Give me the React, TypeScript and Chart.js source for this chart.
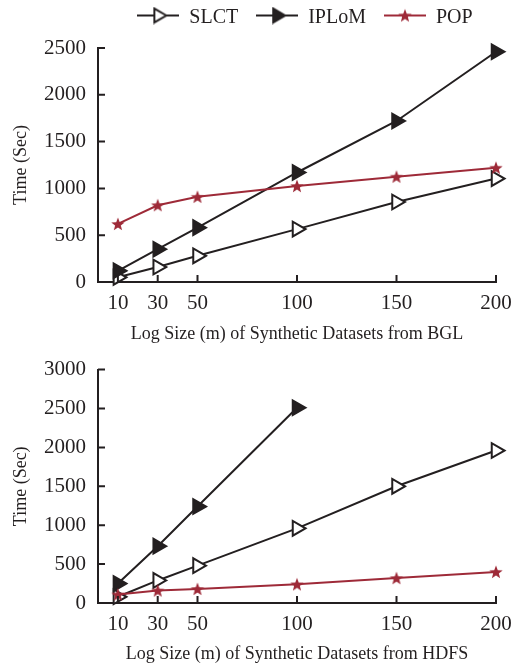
import React, { useEffect, useRef } from 'react';
import { Chart, registerables } from 'chart.js';

Chart.register(...registerables);

// ---- data ----
const sizes = [10, 30, 50, 100, 150, 200];
const xTickValues = [10, 30, 50, 100, 150, 200];
const seriesNames = ['SLCT', 'IPLoM', 'POP'];

const bglSLCT = [50, 160, 280, 565, 855, 1105];
const bglIPLoM = [120, 350, 580, 1170, 1720, 2460];
const bglPOP = [620, 820, 910, 1025, 1125, 1220];

const hdfsSLCT = [80, 290, 480, 960, 1500, 1960];
const hdfsIPLoM = [250, 730, 1240, 2510];
const hdfsPOP = [110, 160, 180, 240, 320, 400];

const bglYMax = 2500;
const hdfsYMax = 3000;
const yStep = 500;

const xTitleBGL = 'Log Size (m) of Synthetic Datasets from BGL';
const xTitleHDFS = 'Log Size (m) of Synthetic Datasets from HDFS';
const yTitle = 'Time (Sec)';

// ---- styles ----
const INK = '#231f20';
const RED = '#9e2a38';
const FONT = '"Liberation Serif", "DejaVu Serif", serif';

function makeStar(size: number, outer: number, inner: number, color: string) {
  const c = document.createElement('canvas');
  c.width = size;
  c.height = size;
  const ctx = c.getContext('2d')!;
  const cx = size / 2;
  const cy = size / 2;
  ctx.beginPath();
  for (let i = 0; i < 10; i++) {
    const r = i % 2 === 0 ? outer : inner;
    const a = -Math.PI / 2 + (i * Math.PI) / 5;
    const px = cx + r * Math.cos(a);
    const py = cy + r * Math.sin(a) + 0.6;
    if (i === 0) ctx.moveTo(px, py);
    else ctx.lineTo(px, py);
  }
  ctx.closePath();
  ctx.fillStyle = color;
  ctx.fill();
  return c;
}

function makeLegendIcon(kind: 'hollow' | 'filled' | 'star') {
  const w = 42;
  const h = 18;
  const c = document.createElement('canvas');
  c.width = w;
  c.height = h;
  const ctx = c.getContext('2d')!;
  const cy = h / 2;
  const color = kind === 'star' ? RED : INK;
  ctx.strokeStyle = color;
  ctx.lineWidth = 2;
  ctx.beginPath();
  ctx.moveTo(0, cy);
  ctx.lineTo(w, cy);
  ctx.stroke();
  const cx = w / 2;
  if (kind === 'star') {
    const s = makeStar(16, 7, 3, RED);
    ctx.drawImage(s, cx - 8, cy - 8);
  } else {
    const r = 8;
    ctx.beginPath();
    ctx.moveTo(cx + r, cy);
    ctx.lineTo(cx - r / 2, cy - r * 0.866);
    ctx.lineTo(cx - r / 2, cy + r * 0.866);
    ctx.closePath();
    ctx.fillStyle = kind === 'filled' ? INK : '#ffffff';
    ctx.fill();
    ctx.lineWidth = 2;
    ctx.strokeStyle = INK;
    ctx.stroke();
  }
  return c;
}

const inwardTicks = {
  id: 'inwardTicks',
  afterDraw(chart: any) {
    const { ctx, chartArea, scales } = chart;
    ctx.save();
    ctx.strokeStyle = INK;
    ctx.lineWidth = 2;
    ctx.beginPath();
    scales.x.ticks.forEach((t: any) => {
      const px = scales.x.getPixelForValue(t.value);
      ctx.moveTo(px, chartArea.bottom);
      ctx.lineTo(px, chartArea.bottom - 7);
    });
    scales.y.ticks.forEach((t: any) => {
      const py = scales.y.getPixelForValue(t.value);
      ctx.moveTo(chartArea.left, py);
      ctx.lineTo(chartArea.left + 7, py);
    });
    ctx.stroke();
    ctx.restore();
  },
};

// legend row drawn from the chart's datasets (line + marker icon, then label)
function makeLegendPlugin(icons: HTMLCanvasElement[], enabled: boolean) {
  return {
    id: 'legendRow',
    afterDraw(chart: any) {
      if (!enabled) return;
      const { ctx, chartArea } = chart;
      const iconW = 42;
      const gapText = 10;
      const gapItem = 18;
      ctx.save();
      ctx.font = `20px ${FONT}`;
      ctx.fillStyle = INK;
      ctx.textBaseline = 'alphabetic';
      ctx.textAlign = 'left';
      const labels: string[] = chart.data.datasets.map((d: any) => d.label);
      const widths = labels.map((t) => ctx.measureText(t).width);
      let total = 0;
      widths.forEach((w, i) => {
        total += iconW + gapText + w + (i < widths.length - 1 ? gapItem : 0);
      });
      const center = (chartArea.left + chartArea.right) / 2 + 8;
      let x = center - total / 2;
      const cy = 15.5;
      labels.forEach((t, i) => {
        const ic = icons[i];
        ctx.drawImage(ic, x, cy - ic.height / 2);
        x += iconW + gapText;
        ctx.fillText(t, x, cy + 7);
        x += widths[i] + gapItem;
      });
      ctx.restore();
    },
  };
}

function toPoints(vals: number[]) {
  return vals.map((v, i) => ({ x: sizes[i], y: v }));
}

function buildConfig(
  slct: number[],
  iplom: number[],
  pop: number[],
  yMax: number,
  xTitle: string,
  showLegend: boolean,
  padTop: number,
  xAxisHeight: number,
  star: HTMLCanvasElement,
  icons: HTMLCanvasElement[]
): any {
  const common = {
    borderWidth: 2,
    pointBorderWidth: 2,
    pointRadius: 8.5,
    pointHoverRadius: 8.5,
    clip: false,
    tension: 0,
  };
  return {
    type: 'line',
    data: {
      datasets: [
        {
          ...common,
          label: seriesNames[0],
          data: toPoints(slct),
          borderColor: INK,
          pointStyle: 'triangle',
          rotation: 90,
          pointBackgroundColor: '#ffffff',
          pointBorderColor: INK,
          order: 2,
        },
        {
          ...common,
          label: seriesNames[1],
          data: toPoints(iplom),
          borderColor: INK,
          pointStyle: 'triangle',
          rotation: 90,
          pointBackgroundColor: INK,
          pointBorderColor: INK,
          order: 1,
        },
        {
          ...common,
          label: seriesNames[2],
          data: toPoints(pop),
          borderColor: RED,
          pointStyle: star,
          pointBackgroundColor: RED,
          pointBorderColor: RED,
          order: 0,
        },
      ],
    },
    options: {
      responsive: false,
      animation: false,
      events: [],
      layout: { padding: { left: 0, right: 35, top: padTop, bottom: 0 } },
      plugins: {
        tooltip: { enabled: false },
        legend: { display: false },
      },
      scales: {
        x: {
          type: 'linear',
          min: 0,
          max: 200,
          afterBuildTicks: (scale: any) => {
            scale.ticks = xTickValues.map((v) => ({ value: v }));
          },
          afterFit: (scale: any) => {
            scale.height = xAxisHeight;
          },
          grid: { display: false, drawTicks: false },
          border: { display: true, color: INK, width: 2 },
          ticks: {
            autoSkip: false,
            maxRotation: 0,
            padding: 9,
            color: INK,
            font: { family: FONT, size: 21 },
            callback: (v: any) => String(v),
          },
          title: {
            display: true,
            text: xTitle,
            color: INK,
            font: { family: FONT, size: 18 },
            padding: { top: 0, bottom: 0 },
          },
        },
        y: {
          type: 'linear',
          min: 0,
          max: yMax,
          afterFit: (scale: any) => {
            scale.width = 98;
          },
          grid: { display: false, drawTicks: false },
          border: { display: true, color: INK, width: 2 },
          ticks: {
            stepSize: yStep,
            padding: 12,
            color: INK,
            font: { family: FONT, size: 21 },
            callback: (v: any) => String(v),
          },
          title: {
            display: true,
            text: yTitle,
            color: INK,
            font: { family: FONT, size: 18 },
            padding: { top: 10, bottom: 0 },
          },
        },
      },
    },
    plugins: [inwardTicks, makeLegendPlugin(icons, showLegend)],
  };
}

export default function App() {
  const topRef = useRef<HTMLCanvasElement>(null);
  const botRef = useRef<HTMLCanvasElement>(null);

  useEffect(() => {
    const star = makeStar(16, 7, 3, RED);
    const icons = [makeLegendIcon('hollow'), makeLegendIcon('filled'), makeLegendIcon('star')];
    const top = new Chart(
      topRef.current!,
      buildConfig(bglSLCT, bglIPLoM, bglPOP, bglYMax, xTitleBGL, true, 48, 63, star, icons)
    );
    const bot = new Chart(
      botRef.current!,
      buildConfig(hdfsSLCT, hdfsIPLoM, hdfsPOP, hdfsYMax, xTitleHDFS, false, 23, 62, star, icons)
    );
    return () => {
      top.destroy();
      bot.destroy();
    };
  }, []);

  return (
    <div style={{ position: 'absolute', left: 0, top: 0, width: 531, height: 665, background: '#fff' }}>
      <canvas ref={topRef} width={531} height={345} style={{ display: 'block' }} />
      <canvas ref={botRef} width={531} height={320} style={{ display: 'block' }} />
    </div>
  );
}
